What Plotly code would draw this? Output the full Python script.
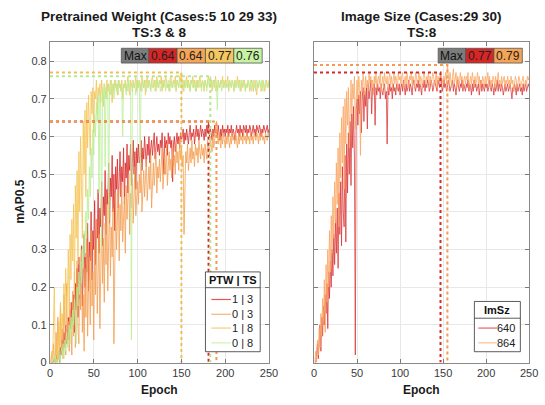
import plotly.graph_objects as go
import numpy as np

epochs = list(range(1, 251))

# Left panel: Pretrained Weight (PTW | TS)
ptw1_ts3 = [
0.00,0.00,0.00,0.00,0.01,0.00,0.02,0.00,0.01,0.03,0.00,0.04,0.02,0.06,0.03,0.08,0.04,0.10,0.05,0.07,0.12,0.06,0.14,0.09,0.16,
0.11,0.18,0.08,0.21,0.14,0.25,0.12,0.28,0.17,0.23,0.31,0.15,0.27,0.34,0.20,0.29,0.24,0.37,0.19,0.32,0.27,0.40,0.22,0.35,0.30,
0.43,0.26,0.38,0.33,0.46,0.29,0.41,0.36,0.48,0.31,0.44,0.39,0.51,0.34,0.46,0.42,0.53,0.37,0.49,0.44,0.55,0.40,0.50,0.35,0.52,
0.46,0.54,0.41,0.50,0.56,0.44,0.52,0.48,0.57,0.42,0.53,0.49,0.58,0.45,0.55,0.51,0.58,0.47,0.54,0.59,0.50,0.56,0.46,0.57,0.53,
0.58,0.53,0.55,0.59,0.51,0.57,0.54,0.60,0.56,0.52,0.58,0.55,0.60,0.53,0.57,0.59,0.55,0.58,0.61,0.54,0.57,0.60,0.56,0.58,0.55,
0.59,0.57,0.61,0.56,0.50,0.60,0.57,0.59,0.55,0.61,0.58,0.60,0.57,0.59,0.48,0.58,0.60,0.56,0.59,0.61,0.58,0.60,0.57,0.61,0.59,
0.60,0.62,0.58,0.61,0.59,0.62,0.60,0.58,0.61,0.63,0.59,0.61,0.60,0.62,0.58,0.61,0.63,0.60,0.62,0.59,0.61,0.63,0.60,0.62,0.61,
0.59,0.62,0.60,0.63,0.61,0.64,0.60,0.62,0.61,0.59,0.62,0.60,0.63,0.61,0.62,0.60,0.63,0.61,0.59,0.62,0.60,0.63,0.61,0.62,0.60,
0.62,0.61,0.63,0.60,0.62,0.61,0.63,0.60,0.62,0.61,0.59,0.62,0.63,0.61,0.62,0.60,0.63,0.61,0.62,0.60,0.63,0.62,0.61,0.63,0.60,
0.62,0.61,0.63,0.62,0.60,0.62,0.63,0.61,0.62,0.60,0.63,0.62,0.61,0.63,0.62,0.60,0.62,0.61,0.63,0.62,0.61,0.62,0.63,0.61,0.62]

ptw0_ts3 = [
0.00,0.02,0.00,0.05,0.01,0.00,0.08,0.02,0.12,0.03,0.00,0.15,0.04,0.09,0.01,0.18,0.06,0.02,0.21,0.05,0.11,0.03,0.16,0.08,0.02,
0.19,0.07,0.24,0.04,0.13,0.27,0.09,0.05,0.22,0.14,0.30,0.08,0.18,0.03,0.25,0.12,0.33,0.07,0.20,0.28,0.10,0.35,0.15,0.24,0.06,
0.31,0.18,0.38,0.13,0.27,0.34,0.09,0.29,0.40,0.21,0.33,0.16,0.37,0.26,0.42,0.19,0.31,0.44,0.23,0.36,0.28,0.41,0.05,0.34,0.45,
0.30,0.39,0.46,0.27,0.42,0.35,0.48,0.32,0.40,0.44,0.29,0.47,0.38,0.43,0.50,0.34,0.45,0.41,0.49,0.37,0.46,0.52,0.39,0.44,0.48,
0.42,0.50,0.45,0.53,0.40,0.47,0.51,0.44,0.49,0.54,0.43,0.48,0.52,0.46,0.55,0.41,0.50,0.53,0.47,0.51,0.56,0.45,0.52,0.49,0.54,
0.48,0.53,0.57,0.46,0.51,0.55,0.50,0.58,0.47,0.53,0.56,0.51,0.54,0.49,0.57,0.52,0.55,0.50,0.58,0.53,0.56,0.51,0.59,0.54,0.57,
0.52,0.55,0.34,0.50,0.56,0.53,0.58,0.51,0.55,0.57,0.53,0.59,0.54,0.56,0.52,0.58,0.55,0.57,0.53,0.59,0.56,0.54,0.58,0.55,0.57,
0.53,0.58,0.56,0.54,0.59,0.57,0.55,0.60,0.58,0.56,0.61,0.57,0.59,0.62,0.64,0.60,0.58,0.61,0.59,0.57,0.60,0.58,0.61,0.59,0.57,
0.60,0.58,0.61,0.59,0.57,0.60,0.58,0.61,0.59,0.60,0.58,0.61,0.59,0.57,0.60,0.58,0.61,0.59,0.60,0.58,0.61,0.59,0.60,0.58,0.61,
0.59,0.60,0.58,0.61,0.59,0.60,0.58,0.61,0.60,0.59,0.61,0.60,0.58,0.61,0.59,0.60,0.61,0.59,0.60,0.58,0.61,0.60,0.59,0.61,0.60]

ptw1_ts8 = [
0.00,0.03,0.00,0.08,0.20,0.02,0.00,0.06,0.01,0.11,0.04,0.16,0.07,0.13,0.09,0.21,0.10,0.25,0.14,0.19,0.30,0.12,0.34,0.22,0.38,
0.27,0.42,0.18,0.47,0.33,0.51,0.26,0.56,0.40,0.60,0.47,0.33,0.64,0.50,0.67,0.44,0.69,0.57,0.71,0.63,0.55,0.72,0.66,0.73,0.61,
0.72,0.70,0.75,0.66,0.73,0.71,0.74,0.69,0.75,0.72,0.68,0.74,0.73,0.70,0.75,0.72,0.74,0.71,0.75,0.73,0.69,0.74,0.72,0.75,0.73,
0.74,0.71,0.75,0.73,0.74,0.72,0.75,0.70,0.74,0.73,0.75,0.72,0.74,0.76,0.73,0.71,0.75,0.74,0.72,0.75,0.73,0.74,0.76,0.72,0.75,
0.73,0.75,0.74,0.72,0.76,0.74,0.73,0.75,0.71,0.74,0.76,0.73,0.75,0.74,0.72,0.75,0.76,0.73,0.74,0.75,0.72,0.76,0.74,0.73,0.75,
0.74,0.76,0.72,0.75,0.73,0.74,0.76,0.75,0.73,0.74,0.72,0.75,0.76,0.74,0.73,0.75,0.74,0.76,0.72,0.75,0.74,0.73,0.76,0.75,0.77,
0.74,0.72,0.75,0.73,0.74,0.76,0.73,0.75,0.74,0.72,0.75,0.74,0.76,0.73,0.75,0.74,0.72,0.75,0.73,0.74,0.76,0.74,0.73,0.75,0.74,
0.72,0.75,0.74,0.73,0.75,0.76,0.74,0.73,0.75,0.72,0.74,0.75,0.73,0.76,0.74,0.72,0.75,0.74,0.73,0.75,0.74,0.76,0.73,0.74,0.75,
0.73,0.74,0.76,0.72,0.75,0.74,0.73,0.75,0.74,0.72,0.75,0.73,0.74,0.76,0.73,0.75,0.74,0.72,0.75,0.73,0.74,0.75,0.72,0.74,0.73,
0.75,0.74,0.72,0.73,0.75,0.74,0.72,0.74,0.75,0.73,0.71,0.74,0.73,0.75,0.74,0.72,0.73,0.75,0.74,0.72,0.73,0.75,0.74,0.73,0.75]

ptw0_ts8 = [
0.00,0.00,0.01,0.00,0.00,0.02,0.00,0.01,0.00,0.03,0.01,0.00,0.04,0.02,0.05,0.01,0.06,0.03,0.08,0.04,0.07,0.10,0.05,0.12,0.08,
0.14,0.10,0.17,0.12,0.05,0.20,0.15,0.24,0.18,0.27,0.21,0.31,0.25,0.35,0.28,0.40,0.33,0.46,0.38,0.52,0.44,0.57,0.49,0.62,0.55,
0.66,0.60,0.69,0.64,0.71,0.45,0.72,0.67,0.30,0.73,0.69,0.74,0.52,0.72,0.70,0.74,0.38,0.73,0.71,0.75,0.72,0.74,0.70,0.73,0.75,
0.72,0.74,0.71,0.75,0.73,0.74,0.72,0.60,0.74,0.73,0.75,0.71,0.74,0.72,0.75,0.73,0.74,0.06,0.72,0.75,0.73,0.74,0.71,0.75,0.74,
0.73,0.75,0.52,0.74,0.72,0.75,0.73,0.74,0.75,0.72,0.74,0.73,0.75,0.74,0.72,0.75,0.73,0.74,0.75,0.72,0.74,0.75,0.73,0.74,0.75,
0.72,0.74,0.75,0.73,0.74,0.75,0.72,0.74,0.73,0.75,0.74,0.72,0.75,0.73,0.74,0.75,0.73,0.74,0.72,0.75,0.74,0.73,0.75,0.74,0.73,
0.75,0.74,0.72,0.75,0.73,0.74,0.75,0.73,0.74,0.72,0.75,0.74,0.73,0.75,0.74,0.72,0.75,0.73,0.74,0.75,0.73,0.74,0.72,0.75,0.74,
0.73,0.75,0.74,0.72,0.75,0.74,0.73,0.76,0.74,0.75,0.73,0.74,0.75,0.72,0.74,0.67,0.75,0.73,0.74,0.75,0.72,0.74,0.75,0.73,0.74,
0.75,0.73,0.74,0.72,0.75,0.74,0.73,0.75,0.74,0.72,0.75,0.73,0.74,0.75,0.73,0.74,0.72,0.75,0.74,0.73,0.75,0.74,0.72,0.74,0.73,
0.75,0.74,0.73,0.75,0.72,0.74,0.75,0.73,0.74,0.72,0.75,0.74,0.73,0.75,0.74,0.73,0.75,0.72,0.74,0.73,0.75,0.74,0.73,0.74,0.75]

# Right panel: Image Size
imsz640 = [
0.00,0.00,0.02,0.05,0.01,0.07,0.10,0.03,0.12,0.07,0.15,0.10,0.18,0.13,0.21,0.09,0.24,0.17,0.27,0.20,0.30,0.23,0.34,0.26,0.38,
0.29,0.41,0.25,0.45,0.34,0.48,0.31,0.52,0.40,0.36,0.55,0.32,0.58,0.45,0.61,0.50,0.64,0.47,0.66,0.57,0.68,0.54,0.02,0.67,0.70,
0.63,0.71,0.66,0.72,0.61,0.70,0.73,0.64,0.72,0.68,0.73,0.62,0.74,0.70,0.72,0.75,0.66,0.73,0.72,0.74,0.63,0.73,0.71,0.74,0.72,
0.73,0.70,0.74,0.72,0.71,0.73,0.74,0.70,0.72,0.58,0.73,0.71,0.74,0.72,0.73,0.70,0.74,0.72,0.73,0.71,0.74,0.73,0.72,0.74,0.71,
0.73,0.74,0.72,0.75,0.73,0.71,0.74,0.72,0.73,0.75,0.72,0.74,0.73,0.71,0.74,0.75,0.73,0.72,0.74,0.73,0.75,0.72,0.74,0.73,0.71,
0.74,0.73,0.75,0.72,0.74,0.73,0.75,0.74,0.72,0.73,0.75,0.74,0.72,0.73,0.75,0.74,0.73,0.72,0.75,0.74,0.73,0.77,0.74,0.72,0.73,
0.75,0.73,0.74,0.72,0.73,0.75,0.74,0.72,0.73,0.74,0.75,0.72,0.74,0.73,0.71,0.74,0.75,0.73,0.72,0.74,0.73,0.75,0.72,0.74,0.73,
0.72,0.74,0.73,0.75,0.72,0.74,0.73,0.71,0.74,0.72,0.75,0.73,0.74,0.72,0.73,0.74,0.71,0.73,0.75,0.72,0.74,0.73,0.72,0.74,0.73,
0.74,0.72,0.73,0.75,0.73,0.72,0.74,0.73,0.71,0.74,0.72,0.73,0.75,0.72,0.74,0.73,0.72,0.74,0.73,0.71,0.73,0.74,0.72,0.73,0.74,
0.72,0.73,0.74,0.72,0.70,0.73,0.72,0.74,0.73,0.71,0.74,0.72,0.73,0.74,0.72,0.73,0.71,0.74,0.72,0.73,0.74,0.72,0.73,0.74,0.73]

imsz864 = [
0.00,0.03,0.00,0.06,0.02,0.09,0.04,0.13,0.07,0.17,0.11,0.22,0.08,0.26,0.16,0.30,0.20,0.35,0.24,0.39,0.29,0.44,0.33,0.48,0.37,
0.53,0.42,0.57,0.36,0.61,0.49,0.65,0.53,0.68,0.46,0.70,0.58,0.72,0.63,0.73,0.57,0.71,0.75,0.66,0.74,0.70,0.76,0.62,0.73,0.75,
0.70,0.76,0.73,0.55,0.75,0.72,0.77,0.74,0.71,0.76,0.73,0.75,0.72,0.77,0.74,0.76,0.73,0.75,0.71,0.76,0.74,0.77,0.73,0.75,0.76,
0.74,0.77,0.72,0.75,0.76,0.73,0.77,0.75,0.74,0.76,0.72,0.75,0.77,0.74,0.76,0.73,0.75,0.77,0.74,0.76,0.75,0.73,0.77,0.75,0.76,
0.74,0.76,0.77,0.73,0.75,0.76,0.74,0.77,0.75,0.73,0.76,0.75,0.77,0.74,0.76,0.75,0.73,0.77,0.76,0.74,0.75,0.77,0.74,0.76,0.75,
0.73,0.76,0.77,0.75,0.74,0.76,0.75,0.77,0.73,0.76,0.74,0.75,0.77,0.76,0.74,0.75,0.77,0.73,0.76,0.75,0.74,0.77,0.76,0.75,0.74,
0.76,0.75,0.77,0.74,0.79,0.76,0.74,0.77,0.75,0.73,0.76,0.78,0.74,0.75,0.77,0.73,0.76,0.75,0.74,0.77,0.75,0.76,0.73,0.75,0.76,
0.74,0.76,0.75,0.77,0.73,0.75,0.76,0.74,0.77,0.75,0.73,0.76,0.74,0.75,0.77,0.74,0.76,0.73,0.75,0.74,0.76,0.75,0.73,0.76,0.74,
0.75,0.77,0.74,0.76,0.73,0.75,0.74,0.76,0.75,0.73,0.76,0.74,0.75,0.77,0.74,0.75,0.73,0.76,0.74,0.75,0.76,0.73,0.75,0.74,0.76,
0.74,0.75,0.73,0.76,0.74,0.75,0.72,0.74,0.76,0.75,0.73,0.74,0.76,0.75,0.73,0.74,0.75,0.76,0.74,0.73,0.75,0.74,0.76,0.75,0.76]

left_labels = ["1 | 3", "0 | 3", "1 | 8", "0 | 8"]
right_labels = ["640", "864"]
x_ticks = [0, 50, 100, 150, 200, 250]
y_ticks = [0, 0.1, 0.2, 0.3, 0.4, 0.5, 0.6, 0.7, 0.8]

W, H = 545, 405
FONT = "Liberation Sans, Arial, Helvetica, sans-serif"

def px(x):
    return x / W

def py(y):
    return 1 - y / H

left_series = [ptw1_ts3, ptw0_ts3, ptw1_ts8, ptw0_ts8]
right_series = [imsz640, imsz864]
left_line_cols = ["rgba(218,40,40,0.8)", "rgba(244,158,80,0.8)", "rgba(245,196,85,0.8)", "rgba(186,238,148,0.8)"]
left_legend_cols = ["#e45555", "#f5b27a", "#f6cf7c", "#cdf2b0"]
left_max_cols = ["#d42a2a", "#f39a4c", "#f2bf4e", "#b4e890"]
left_cell_cols = ["#d62626", "#f5a455", "#f6c660", "#c6f2a2"]
right_line_cols = ["rgba(218,50,50,0.75)", "rgba(250,168,100,0.8)"]
right_legend_cols = ["#e46464", "#f9c296"]
right_max_cols = ["#d42a2a", "#f59a50"]
right_cell_cols = ["#d62626", "#f5a455"]

fig = go.Figure()

for vals, col in zip(left_series, left_line_cols):
    fig.add_trace(go.Scatter(x=epochs, y=vals, mode="lines", line=dict(color=col, width=1),
                             xaxis="x", yaxis="y", showlegend=False, hoverinfo="skip"))
for vals, col in zip(right_series, right_line_cols):
    fig.add_trace(go.Scatter(x=epochs, y=vals, mode="lines", line=dict(color=col, width=1),
                             xaxis="x2", yaxis="y2", showlegend=False, hoverinfo="skip"))

def max_info(vals):
    i = int(np.argmax(vals))
    return epochs[i], vals[i]

for vals, col in zip(left_series, left_max_cols):
    e, m = max_info(vals)
    fig.add_trace(go.Scatter(x=[0, e, e], y=[m, m, 0], mode="lines",
                             line=dict(color=col, width=2, dash="dot"),
                             xaxis="x", yaxis="y", showlegend=False, hoverinfo="skip"))
for vals, col in zip(right_series, right_max_cols):
    e, m = max_info(vals)
    fig.add_trace(go.Scatter(x=[0, e, e], y=[m, m, 0], mode="lines",
                             line=dict(color=col, width=2, dash="dot"),
                             xaxis="x2", yaxis="y2", showlegend=False, hoverinfo="skip"))

axis_common = dict(range=[0, 250], tickvals=x_ticks, ticks="inside", ticklen=4,
                   tickcolor="#7a7a7a", showline=True, linecolor="#8a8a8a", linewidth=1,
                   mirror="allticks", showgrid=True, gridcolor="#e8e8e8", gridwidth=1,
                   zeroline=False, tickfont=dict(family=FONT, size=11, color="#3a3a3a"))
yaxis_common = dict(range=[0, 0.85], tickvals=y_ticks, ticks="inside", ticklen=4,
                    tickcolor="#7a7a7a", showline=True, linecolor="#8a8a8a", linewidth=1,
                    mirror="allticks", showgrid=True, gridcolor="#e8e8e8", gridwidth=1,
                    zeroline=False, tickfont=dict(family=FONT, size=11, color="#3a3a3a"))

fig.update_layout(
    width=W, height=H, margin=dict(l=0, r=0, t=0, b=0),
    paper_bgcolor="white", plot_bgcolor="white",
    xaxis=dict(domain=[px(48), px(272)], anchor="y", **axis_common),
    yaxis=dict(domain=[py(368), py(43)], anchor="x", ticktext=[str(t) for t in y_ticks], **yaxis_common),
    xaxis2=dict(domain=[px(318), px(538)], anchor="y2", **axis_common),
    yaxis2=dict(domain=[py(368), py(43)], anchor="x2", showticklabels=False, **yaxis_common),
)

shapes = []
annotations = []

def text(x, y, s, size=11, bold=False, color="#222", xanchor="center", angle=0):
    annotations.append(dict(x=px(x), y=py(y), xref="paper", yref="paper", text=f"<b>{s}</b>" if bold else s,
                            showarrow=False, xanchor=xanchor, yanchor="middle", textangle=angle,
                            font=dict(family=FONT, size=size, color=color)))

# titles
text(160, 17, "Pretrained Weight (Cases:5 10 29 33)", size=13.5, bold=True, color="#1a1a1a")
text(160, 33, "TS:3 &amp; 8", size=13.5, bold=True, color="#1a1a1a")
text(428, 17, "Image Size (Cases:29 30)", size=13.5, bold=True, color="#1a1a1a")
text(428, 33, "TS:8", size=13.5, bold=True, color="#1a1a1a")
# axis labels
text(160, 396, "Epoch", size=12, bold=True, color="#1a1a1a")
text(428, 396, "Epoch", size=12, bold=True, color="#1a1a1a")
text(17, 205, "mAP0.5", size=12, bold=True, color="#1a1a1a", angle=-90)

# Max tables
def max_table(x0, cells, cols):
    y0, y1 = 49, 64
    w_max = 28
    shapes.append(dict(type="rect", xref="paper", yref="paper", x0=px(x0), x1=px(x0 + w_max),
                       y0=py(y1), y1=py(y0), fillcolor="#7c7c7c", line=dict(color="#555", width=0.8)))
    text(x0 + w_max / 2, 56.5, "Max", size=12, color="#111")
    xc = x0 + w_max
    for s, c in zip(cells, cols):
        w = 29
        shapes.append(dict(type="rect", xref="paper", yref="paper", x0=px(xc), x1=px(xc + w),
                           y0=py(y1), y1=py(y0), fillcolor=c, line=dict(color="#555", width=0.8)))
        text(xc + w / 2, 56.5, s, size=12, color="#222")
        xc += w

max_table(121, [f"{max(v):.2f}" for v in left_series], left_cell_cols)
max_table(445, [f"{max(v):.2f}" for v in right_series], right_cell_cols)

# Custom legends
def legend(x0, x1, y0, y1, ysep, title, labels, cols, entry_y, lx0, lx1, tx):
    shapes.append(dict(type="rect", xref="paper", yref="paper", x0=px(x0), x1=px(x1),
                       y0=py(y1), y1=py(y0), fillcolor="white", line=dict(color="#333", width=0.8)))
    shapes.append(dict(type="line", xref="paper", yref="paper", x0=px(x0), x1=px(x1),
                       y0=py(ysep), y1=py(ysep), line=dict(color="#333", width=0.8)))
    text((x0 + x1) / 2, (y0 + ysep) / 2, title, size=11, bold=True, color="#111")
    for lab, c, ey in zip(labels, cols, entry_y):
        shapes.append(dict(type="line", xref="paper", yref="paper", x0=px(lx0), x1=px(lx1),
                           y0=py(ey), y1=py(ey), line=dict(color=c, width=1.2)))
        text(tx, ey, lab, size=11, color="#222", xanchor="right")

legend(207, 263, 276, 357, 292, "PTW | TS", left_labels, left_legend_cols,
       [304, 319, 333, 348], 213, 233, 258)
legend(482, 529, 306, 357, 323, "ImSz", right_labels, right_legend_cols,
       [333, 348], 486, 505, 526)

fig.update_layout(shapes=shapes, annotations=annotations)
fig.write_html("out.html")
